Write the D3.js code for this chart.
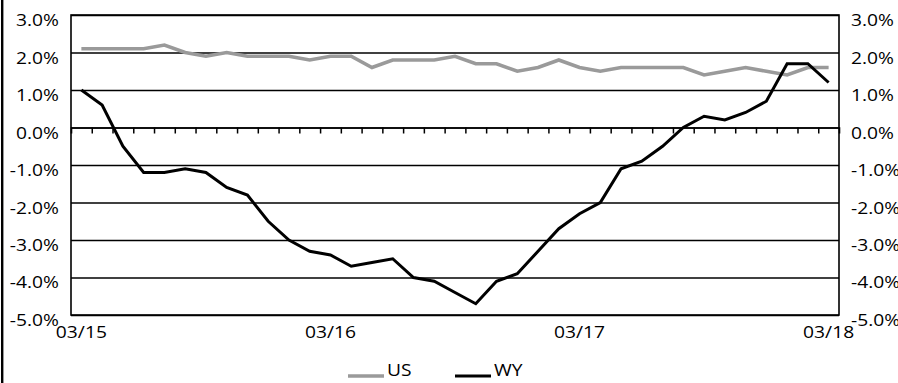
<!DOCTYPE html>
<html>
<head>
<meta charset="utf-8">
<script src="https://cdn.jsdelivr.net/npm/d3@7"></script>
<style>
  html, body { margin: 0; padding: 0; background: #fff; }
  svg { display: block; }
  text { font-family: "Open Sans", sans-serif; fill: #000; }
</style>
</head>
<body>
<svg id="chart" width="898" height="383"></svg>
<script>
// Monthly categories, March 2015 through March 2018
const months = [
  "03/15","04/15","05/15","06/15","07/15","08/15","09/15","10/15","11/15","12/15","01/16","02/16",
  "03/16","04/16","05/16","06/16","07/16","08/16","09/16","10/16","11/16","12/16","01/17","02/17",
  "03/17","04/17","05/17","06/17","07/17","08/17","09/17","10/17","11/17","12/17","01/18","02/18",
  "03/18"
];

// Year-over-year change, percent
const usValues = [
  2.1, 2.1, 2.1, 2.1, 2.2, 2.0, 1.9, 2.0, 1.9, 1.9, 1.9, 1.8,
  1.9, 1.9, 1.6, 1.8, 1.8, 1.8, 1.9, 1.7, 1.7, 1.5, 1.6, 1.8,
  1.6, 1.5, 1.6, 1.6, 1.6, 1.6, 1.4, 1.5, 1.6, 1.5, 1.4, 1.6,
  1.6
];
const wyValues = [
  1.0, 0.6, -0.5, -1.2, -1.2, -1.1, -1.2, -1.6, -1.8, -2.5, -3.0, -3.3,
  -3.4, -3.7, -3.6, -3.5, -4.0, -4.1, -4.4, -4.7, -4.1, -3.9, -3.3, -2.7,
  -2.3, -2.0, -1.1, -0.9, -0.5, 0.0, 0.3, 0.2, 0.4, 0.7, 1.7, 1.7,
  1.2
];

const yTicks = [-5, -4, -3, -2, -1, 0, 1, 2, 3];
const xLabels = ["03/15", "03/16", "03/17", "03/18"];

const seriesNames = ["US", "WY"];
const seriesColors = { US: "#9a9a9a", WY: "#000000" };

const svg = d3.select("#chart");
const plotL = 71, plotR = 839, plotT = 15, plotB = 315;

const x = d3.scaleBand().domain(months).range([plotL, plotR]).padding(0);
const xEdge = d3.scaleLinear().domain([0, months.length]).range([plotL, plotR]);
const y = d3.scaleLinear().domain([-5, 3]).range([plotB, plotT]);

const fmt = d => d.toFixed(1) + "%";
const FONT = "'Open Sans', sans-serif";
const FS = 15.4;     // font size
const SX = 1.25;     // horizontal widening of the label glyphs

// widen axis text horizontally while keeping its anchor in place
function styleText(sel) {
  sel.attr("font-size", FS).attr("font-family", FONT).attr("fill", "#000")
    .each(function () {
      const t = d3.select(this);
      const x0 = +t.attr("x") || 0;
      t.attr("x", x0 / SX).attr("transform", `scale(${SX},1)`);
    });
}

// left frame rule
svg.append("rect").attr("x", 1).attr("y", 0).attr("width", 2.4).attr("height", 383).attr("fill", "#000");

// horizontal gridlines
svg.append("g")
  .attr("transform", `translate(${plotL},0)`)
  .call(d3.axisLeft(y).tickValues(yTicks).tickSize(-(plotR - plotL)).tickFormat(""))
  .call(g => g.select(".domain").remove())
  .call(g => g.selectAll("line").attr("stroke", "#000").attr("stroke-width", 1.6));

// plot frame
svg.append("rect")
  .attr("x", plotL).attr("y", plotT)
  .attr("width", plotR - plotL).attr("height", plotB - plotT)
  .attr("fill", "none").attr("stroke", "#000").attr("stroke-width", 1.6);

// y labels on both sides (set slightly below their gridlines)
const yLabelShift = 10.5 - 0.32 * FS;
svg.append("g")
  .attr("transform", `translate(${plotL},${yLabelShift})`)
  .call(d3.axisLeft(y).tickValues(yTicks).tickSize(0).tickPadding(12).tickFormat(fmt))
  .call(g => g.select(".domain").remove())
  .call(g => styleText(g.selectAll("text")));

svg.append("g")
  .attr("transform", `translate(${plotR},${yLabelShift})`)
  .call(d3.axisRight(y).tickValues(yTicks).tickSize(0).tickPadding(12).tickFormat(fmt))
  .call(g => g.select(".domain").remove())
  .call(g => styleText(g.selectAll("text")));

// month ticks on the zero line
svg.append("g")
  .attr("transform", `translate(0,${y(0)})`)
  .call(d3.axisBottom(xEdge).tickValues(d3.range(1, months.length)).tickSize(6).tickFormat(""))
  .call(g => g.select(".domain").attr("stroke", "#000").attr("stroke-width", 1.6))
  .call(g => g.selectAll("line").attr("stroke", "#000").attr("stroke-width", 1.5));

// yearly category labels
svg.append("g")
  .attr("transform", `translate(0,${plotB})`)
  .call(d3.axisBottom(x).tickValues(xLabels).tickSize(0).tickPadding(12))
  .call(g => g.select(".domain").remove())
  .call(g => styleText(g.selectAll("text")));

// series lines
const line = d3.line()
  .x((d, i) => x(months[i]) + x.bandwidth() / 2)
  .y(d => y(d));

svg.append("path").datum(usValues)
  .attr("fill", "none").attr("stroke", seriesColors.US).attr("stroke-width", 3.6)
  .attr("stroke-linejoin", "miter").attr("d", line);

svg.append("path").datum(wyValues)
  .attr("fill", "none").attr("stroke", seriesColors.WY).attr("stroke-width", 3)
  .attr("stroke-linejoin", "miter").attr("d", line);

// legend
const legend = svg.append("g").attr("transform", "translate(348,376)");
const legendX = [0, 107];
seriesNames.forEach((name, i) => {
  const g = legend.append("g").attr("transform", `translate(${legendX[i]},0)`);
  g.append("line").attr("x1", 0).attr("x2", 36).attr("y1", 0).attr("y2", 0)
    .attr("stroke", seriesColors[name]).attr("stroke-width", i === 0 ? 3.6 : 3);
  g.append("text").attr("x", 39 / SX).attr("y", 0).attr("transform", `scale(${SX},1)`)
    .attr("font-size", FS).attr("font-family", FONT).text(name);
});
</script>
</body>
</html>
